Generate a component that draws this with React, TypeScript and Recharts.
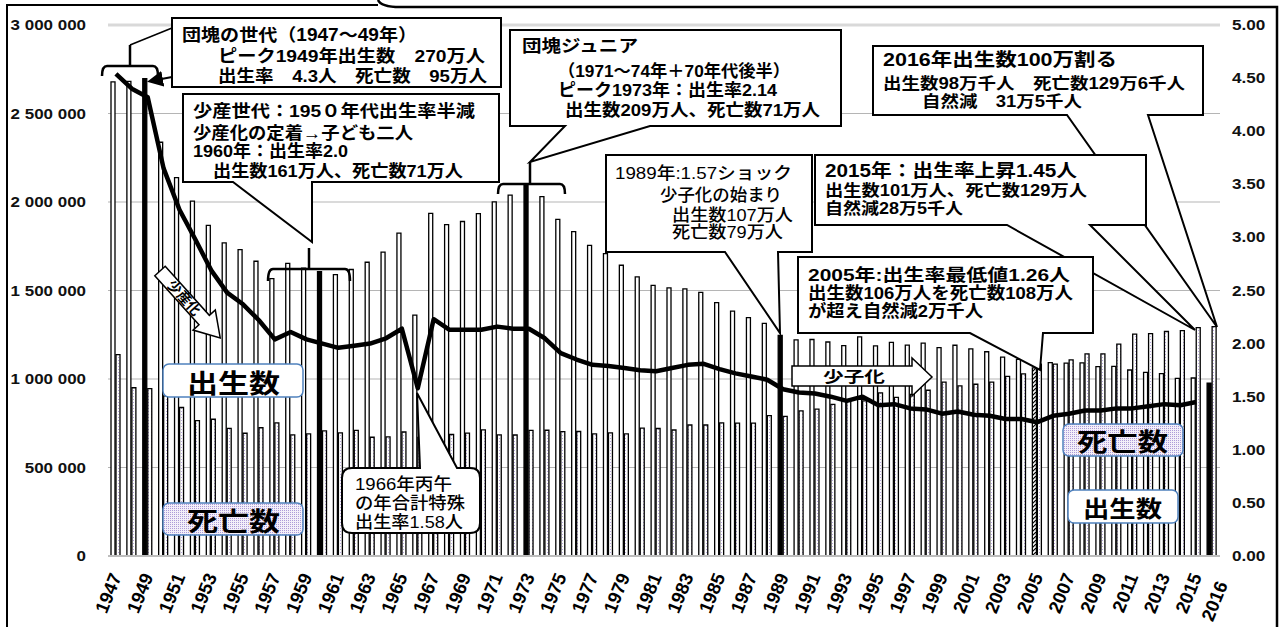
import React from "react";
import { ComposedChart, Bar, Line, XAxis, YAxis, CartesianGrid, Cell, ReferenceLine } from "recharts";

const FONT = '"Liberation Sans", Arial, "Noto Sans CJK JP", sans-serif';

const YEARS = [
  1947, 1948, 1949,
  1950, 1951, 1952, 1953, 1954, 1955, 1956, 1957, 1958, 1959,
  1960, 1961, 1962, 1963, 1964, 1965, 1966, 1967, 1968, 1969,
  1970, 1971, 1972, 1973, 1974, 1975, 1976, 1977, 1978, 1979,
  1980, 1981, 1982, 1983, 1984, 1985, 1986, 1987, 1988, 1989,
  1990, 1991, 1992, 1993, 1994, 1995, 1996, 1997, 1998, 1999,
  2000, 2001, 2002, 2003, 2004, 2005, 2006, 2007, 2008, 2009,
  2010, 2011, 2012, 2013, 2014, 2015, 2016,
];

// 出生数
const BIRTHS = [
  2678792, 2681624, 2696638,
  2337507, 2137689, 2005162, 1868040, 1769580, 1730692, 1665278, 1566713, 1653469, 1626088,
  1606041, 1589372, 1618616, 1659521, 1716761, 1823697, 1360974, 1935647, 1871839, 1889815,
  1934239, 2000973, 2038682, 2091983, 2029989, 1901440, 1832617, 1755100, 1708643, 1642580,
  1576889, 1529455, 1515392, 1508687, 1489780, 1431577, 1382946, 1346658, 1314006, 1246802,
  1221585, 1223245, 1208989, 1188282, 1238328, 1187064, 1206555, 1191665, 1203147, 1177669,
  1190547, 1170662, 1153855, 1123610, 1110721, 1062530, 1092674, 1089818, 1091156, 1070035,
  1071304, 1050806, 1037231, 1029816, 1003539, 1005677, 976978,
];

// 死亡数
const DEATHS = [
  1138238, 950610, 945444,
  904876, 838998, 765068, 772547, 721491, 693523, 724460, 752445, 684189, 689959,
  706599, 695644, 710265, 670770, 673067, 700438, 670342, 675006, 686555, 693787,
  712962, 684521, 683751, 709416, 710510, 702275, 703270, 690074, 695821, 689664,
  722801, 720262, 711883, 740038, 740247, 752283, 750620, 751172, 793014, 788594,
  820305, 829797, 856643, 878532, 875933, 922139, 896211, 913402, 936484, 982031,
  961653, 970331, 982379, 1014951, 1028602, 1083796, 1084450, 1108334, 1142407, 1141865,
  1197012, 1253066, 1256359, 1268436, 1273004, 1290444, 1296000,
];

// 合計特殊出生率
const TFR = [
  4.54, 4.40, 4.32,
  3.65, 3.26, 2.98, 2.69, 2.48, 2.37, 2.22, 2.04, 2.11, 2.04,
  2.00, 1.96, 1.98, 2.00, 2.05, 2.14, 1.58, 2.23, 2.13, 2.13,
  2.13, 2.16, 2.14, 2.14, 2.05, 1.91, 1.85, 1.80, 1.79, 1.77,
  1.75, 1.74, 1.77, 1.80, 1.81, 1.76, 1.72, 1.69, 1.66, 1.57,
  1.54, 1.53, 1.50, 1.46, 1.50, 1.42, 1.43, 1.39, 1.38, 1.34,
  1.36, 1.33, 1.32, 1.29, 1.29, 1.26, 1.32, 1.34, 1.37, 1.37,
  1.39, 1.39, 1.41, 1.43, 1.42, 1.45, null,
];

const LEFT_TICKS = [0, 500000, 1000000, 1500000, 2000000, 2500000, 3000000];
const RIGHT_TICKS = [0, 0.5, 1, 1.5, 2, 2.5, 3, 3.5, 4, 4.5, 5];
const BLACK_YEARS = [1949, 1960, 1973, 1989, 2016];
const HATCH_YEARS = [2005];

const rows = YEARS.map((year, i) => ({ year, births: BIRTHS[i], deaths: DEATHS[i], tfr: TFR[i] }));

function fmtLeft(v: number) {
  return String(v).replace(/\B(?=(\d{3})+(?!\d))/g, " ");
}

function LeftTick({ x, y, payload }: any) {
  return (
    <text transform={`translate(${x},${y}) scale(1.17,1)`} textAnchor="end" dy="0.35em"
      fontSize={14.5} fontWeight="bold" fontFamily={FONT} fill="#111">
      {fmtLeft(payload.value)}
    </text>
  );
}

function RightTick({ x, y, payload }: any) {
  return (
    <text transform={`translate(${x},${y}) scale(1.18,1)`} textAnchor="start" dy="0.35em"
      fontSize={14.5} fontWeight="bold" fontFamily={FONT} fill="#111">
      {Number(payload.value).toFixed(2)}
    </text>
  );
}

function YearTick({ x, y, payload }: any) {
  const yr = Number(payload.value);
  if (yr % 2 === 0 && yr !== 2016) return <g />;
  // 2016 sits a little lower / right of its slot, as in the source
  const dx = yr === 2016 ? 10 : 0;
  const dy = yr === 2016 ? 18 : 10;
  return (
    <g transform={`translate(${x + dx},${y + dy})`}>
      <text transform="rotate(-68)" textAnchor="end" dy="0.35em"
        fontSize={18.5} fontWeight="bold" fontFamily={FONT} fill="#000">
        {yr}
      </text>
    </g>
  );
}

function T({ x, y, w, size = 17, weight = "bold", children }: any) {
  return (
    <text x={x} y={y} textLength={w} lengthAdjust="spacingAndGlyphs" fontSize={size}
      fontWeight={weight} fontFamily={FONT} fill="#000">
      {children}
    </text>
  );
}

// box with a wedge pointer on its bottom edge
function calloutPath(x1: number, y1: number, x2: number, y2: number, bl: number, br: number, tx: number, ty: number) {
  return `M${x1},${y1} H${x2} V${y2} H${br} L${tx},${ty} L${bl},${y2} H${x1} Z`;
}

function Annotations() {
  const box = { fill: "#fff", stroke: "#000", strokeWidth: 2 };
  const brace = { fill: "none", stroke: "#000", strokeWidth: 2.5 };
  return (
    <svg width={1287} height={627} style={{ position: "absolute", left: 0, top: 0, pointerEvents: "none" }}>
      <defs>
        <pattern id="lblDots" width="2" height="2" patternUnits="userSpaceOnUse">
          <rect width="2" height="2" fill="#f3eff9" />
          <rect x="0" y="0" width="1" height="1" fill="#ad9bd8" />
        </pattern>
        <marker id="arrowHead" markerWidth="8" markerHeight="8" refX="6" refY="4" orient="auto">
          <path d="M0,0 L8,4 L0,8 Z" fill="#000" />
        </marker>
      </defs>

      {/* outer frame */}
      <path d="M7,627 V5 H378" fill="none" stroke="#000" strokeWidth={2} />
      <path d="M378,0 Q381,7 400,7 H1277 V627" fill="none" stroke="#000" strokeWidth={2.5} />

      {/* 団塊の世代 */}
      <path d="M102,76 Q102,66 107,66 H153 Q158,66 158,76" {...brace} />
      <path d="M130,66 V45" {...brace} />
      <path d="M130,45 L172,28" stroke="#000" strokeWidth={1.5} />
      <path d="M182,73 L220,61" stroke="#000" strokeWidth={3.5} strokeDasharray="12 13" />
      <path d="M172,77 L151,81" stroke="#000" strokeWidth={2} markerEnd="url(#arrowHead)" />
      <rect x={172} y={18} width={329} height={69} {...box} />
      <T x={182} y={41} w={235} size={17.5}>団塊の世代（1947〜49年）</T>
      <T x={218} y={62} w={267}>ピーク1949年出生数　270万人</T>
      <T x={218} y={82} w={269}>出生率　4.3人　死亡数　95万人</T>

      {/* 少産世代 */}
      <path d="M268,281 Q268,269 273,269 H345 Q350,269 350,281" {...brace} />
      <path d="M309,269 V248" {...brace} />
      <path d={calloutPath(183, 94, 499, 182, 233, 312, 312, 242)} {...box} />
      <T x={193} y={117} w={282}>少産世代：195０年代出生率半減</T>
      <T x={193} y={139} w={220}>少産化の定着→子ども二人</T>
      <T x={193} y={157} w={155}>1960年：出生率2.0</T>
      <T x={213} y={177} w={250}>出生数161万人、死亡数71万人</T>

      {/* 団塊ジュニア */}
      <path d="M498,194 Q498,184 503,184 H560 Q565,184 565,194" {...brace} />
      <path d="M530,184 V162" {...brace} />
      <path d={calloutPath(510, 30, 841, 126, 565, 650, 530, 162)} {...box} />
      <T x={522} y={52} w={116}>団塊ジュニア</T>
      <T x={558} y={77} w={232}>（1971〜74年＋70年代後半）</T>
      <T x={558} y={96} w={219}>ピーク1973年：出生率2.14</T>
      <T x={565} y={116} w={255}>出生数209万人、死亡数71万人</T>

      {/* 1989 */}
      <path d={calloutPath(606, 155, 812, 252, 725, 778, 780, 333)} {...box} />
      <T x={615} y={179} w={177} weight={500}>1989年:1.57ショック</T>
      <T x={660} y={201} w={122} weight={500}>少子化の始まり</T>
      <T x={672} y={221} w={121} weight={500}>出生数107万人</T>
      <T x={672} y={238} w={111} weight={500}>死亡数79万人</T>

      {/* 2016 */}
      <path d={calloutPath(873, 46, 1203, 115, 1067, 1148, 1217, 327)} {...box} />
      <T x={883} y={66} w={234} size={18.5}>2016年出生数100万割る</T>
      <T x={883} y={89} w={302} size={16}>出生数98万千人　死亡数129万6千人</T>
      <T x={922} y={107} w={160} size={16}>自然減　31万5千人</T>

      {/* 2015 */}
      <path d={calloutPath(815, 155, 1146, 225, 1007, 1090, 1195, 330)} {...box} />
      <T x={825} y={177} w={252} size={18}>2015年：出生率上昇1.45人</T>
      <T x={825} y={196} w={262} size={16}>出生数101万人、死亡数129万人</T>
      <T x={825} y={214} w={138} size={16}>自然減28万5千人</T>

      {/* 2005 */}
      <path d={calloutPath(798, 257, 1093, 333, 970, 1043, 1040, 370)} {...box} />
      <T x={808} y={281} w={262}>2005年:出生率最低値1.26人</T>
      <T x={808} y={299} w={265}>出生数106万人を死亡数108万人</T>
      <T x={808} y={317} w={175}>が超え自然減2万千人</T>

      {/* 1966 丙午 */}
      <path d="M352,468 H420 L417,393 L457,468 H470 Q480,468 480,478 V523 Q480,533 470,533 H352 Q342,533 342,523 V478 Q342,468 352,468 Z" {...box} />
      <T x={355} y={490} w={97} weight={500}>1966年丙午</T>
      <T x={355} y={509} w={110} weight={500}>の年合計特殊</T>
      <T x={355} y={528} w={108} weight={500}>出生率1.58人</T>

      {/* 少産化 arrow */}
      <g transform="translate(160,271) rotate(48)">
        <path d="M0,-7 H66 V-15 L90,0 L66,15 V7 H0 Z" fill="#fff" stroke="#000" strokeWidth={1.5} />
        <text x={36} y={0} dy="0.36em" textAnchor="middle" fontSize={14} fontWeight="bold" fontFamily={FONT}>少産化</text>
      </g>

      {/* 少子化 arrow */}
      <path d="M792,366 H912 V358 L932,377 L912,396 V386 H792 Z" fill="#fff" stroke="#000" strokeWidth={1.5} />
      <T x={823} y={382} w={62} size={15}>少子化</T>

      {/* legend labels */}
      <rect x={163} y={364} width={140} height={33} rx={6} fill="#fff" stroke="#4f81bd" strokeWidth={1.5} />
      <T x={187} y={393} w={93} size={26}>出生数</T>
      <rect x={163} y={503} width={140} height={32} rx={6} fill="url(#lblDots)" stroke="#4f81bd" strokeWidth={1.5} />
      <T x={187} y={531} w={93} size={26}>死亡数</T>
      <rect x={1063} y={424} width={120} height={32} rx={6} fill="url(#lblDots)" stroke="#4f81bd" strokeWidth={1.5} />
      <T x={1077} y={451} w={91} size={25}>死亡数</T>
      <rect x={1068} y={490} width={110} height={33} rx={6} fill="#fff" stroke="#4f81bd" strokeWidth={1.5} />
      <T x={1083} y={517} w={79} size={23}>出生数</T>
    </svg>
  );
}

export default function App() {
  return (
    <div style={{ position: "absolute", left: 0, top: 0, width: 1287, height: 627, background: "#fff", overflow: "hidden" }}>
      <svg width={0} height={0} style={{ position: "absolute" }}>
        <defs>
          <pattern id="deathDots" width="3" height="3" patternUnits="userSpaceOnUse">
            <rect width="3" height="3" fill="#fff" />
            <rect x="1" y="0" width="1" height="1" fill="#b7a6dd" />
          </pattern>
          <pattern id="hatch" width="4" height="4" patternUnits="userSpaceOnUse">
            <rect width="4" height="4" fill="#fff" />
            <path d="M0,4 L4,0" stroke="#000" strokeWidth={1.2} />
          </pattern>
        </defs>
      </svg>
      <div style={{ position: "absolute", left: 0, top: 0 }}>
        <ComposedChart width={1287} height={627} data={rows}
          margin={{ top: 25, right: 0, bottom: 0, left: 0 }} barGap={1}>
          <CartesianGrid vertical={false} stroke="#b5b5b5" />
          <ReferenceLine y={3000000} stroke="#d9d9d9" strokeWidth={3} />
          <XAxis dataKey="year" height={71} interval={0} tickLine={false} tickSize={6} tickMargin={2}
            axisLine={{ stroke: "#bdbdbd", strokeWidth: 2 }} tick={(p: any) => <YearTick {...p} />} />
          <YAxis width={108} domain={[0, 3000000]} ticks={LEFT_TICKS} axisLine={false} tickLine={false}
            tickSize={6} tickMargin={16} tick={(p: any) => <LeftTick {...p} />} />
          <YAxis yAxisId="right" orientation="right" width={67} domain={[0, 5]} ticks={RIGHT_TICKS}
            axisLine={false} tickLine={false} tickSize={6} tickMargin={6} tick={(p: any) => <RightTick {...p} />} />
          <Bar dataKey="births" barSize={4} stroke="#000" strokeWidth={1.3} isAnimationActive={false}>
            {rows.map((r) => (
              <Cell key={r.year}
                fill={BLACK_YEARS.includes(r.year) ? "#000" : HATCH_YEARS.includes(r.year) ? "url(#hatch)" : "#fff"} />
            ))}
          </Bar>
          <Bar dataKey="deaths" barSize={4} fill="url(#deathDots)" stroke="#000" strokeWidth={1.3} isAnimationActive={false} />
          <Line yAxisId="right" dataKey="tfr" type="linear" stroke="#000" strokeWidth={4.5} dot={false}
            strokeLinejoin="round" isAnimationActive={false} />
        </ComposedChart>
      </div>
      <Annotations />
    </div>
  );
}
